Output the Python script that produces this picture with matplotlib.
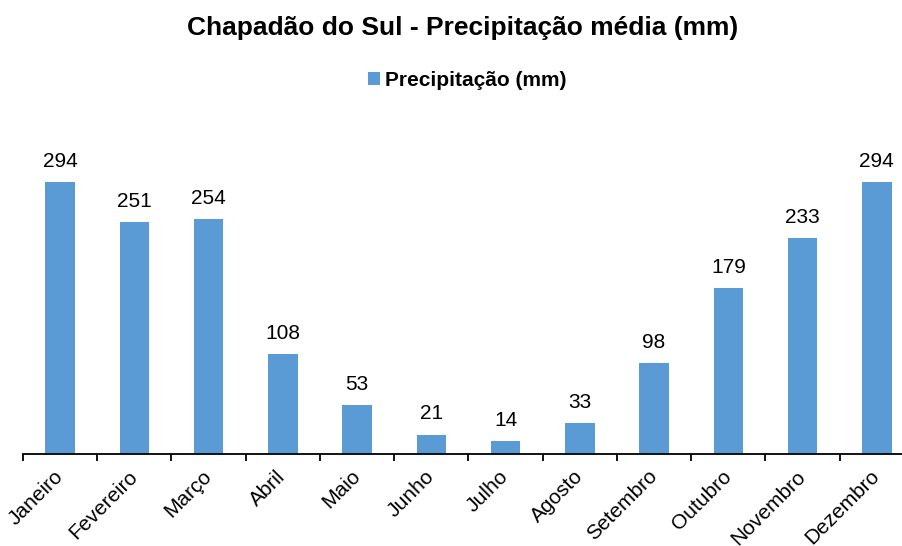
import matplotlib.pyplot as plt
import numpy as np

plt.rcParams['font.family'] = ['Liberation Sans', 'DejaVu Sans']

meses = ['Janeiro', 'Fevereiro', 'Março', 'Abril', 'Maio', 'Junho',
         'Julho', 'Agosto', 'Setembro', 'Outubro', 'Novembro', 'Dezembro']
precip = [294, 251, 254, 108, 53, 21, 14, 33, 98, 179, 233, 294]

W, H = 902, 546
fig = plt.figure(figsize=(W / 100, H / 100), dpi=100)
# axes slightly wider than the figure: the right edge is cut off in the original
ax = fig.add_axes([23 / W, (H - 454) / H, (914 - 23) / W, (454 - 130) / H])

x = np.arange(len(meses))
bars = ax.bar(x, precip, width=0.4, color='#5B9BD5', label='Precipitação (mm)')
for xi, v in zip(x, precip):
    ax.text(xi, v + 12, str(v), ha='center', va='bottom', fontsize=15)

ax.set_xlim(-0.5, 11.5)
ax.set_ylim(0, 350)
ax.set_yticks([])
for s in ['top', 'right', 'left']:
    ax.spines[s].set_visible(False)
ax.spines['bottom'].set_linewidth(1.3)
ax.set_xticks(np.arange(-0.5, 12, 1))
ax.set_xticklabels([])
ax.tick_params(axis='x', length=5, width=1.3, direction='out')
ax.set_xticks(x, minor=True)
ax.set_xticklabels(meses, minor=True, rotation=45, ha='right', va='center',
                   rotation_mode='anchor', fontsize=15)
ax.tick_params(axis='x', which='minor', length=0, pad=14)

fig.text(463 / W, 1 - 28 / H, 'Chapadão do Sul - Precipitação média (mm)',
         ha='center', va='center', fontsize=19, fontweight='bold')
fig.legend(handles=[bars], loc='center', bbox_to_anchor=(467 / W, 1 - 80 / H),
           frameon=False, prop={'weight': 'bold', 'size': 15},
           handlelength=0.6, handleheight=0.6, handletextpad=0.2)

fig.savefig('out.png', dpi=100)
